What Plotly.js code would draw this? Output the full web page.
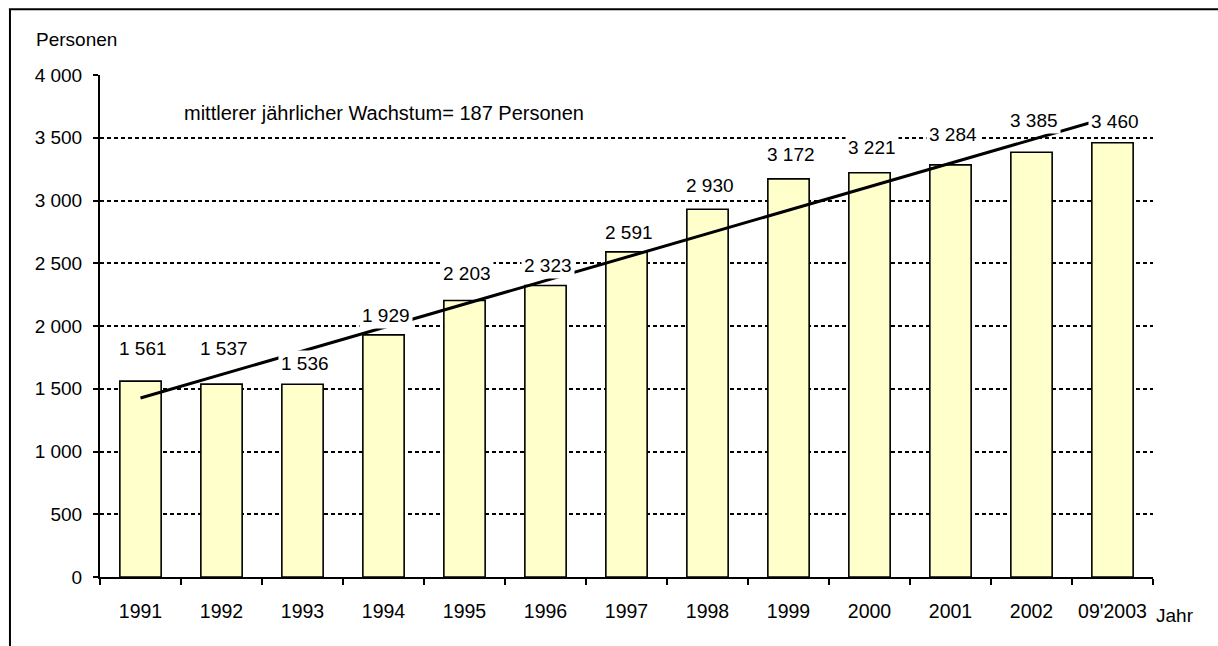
<!DOCTYPE html>
<html>
<head>
<meta charset="utf-8">
<script src="https://cdn.plot.ly/plotly-3.0.1.min.js"></script>
<style>
  html, body { margin: 0; padding: 0; background: #fff; }
  #chart { width: 1218px; height: 646px; }
</style>
</head>
<body>
<div id="chart"></div>
<script>
// ---- data ----
const years = ["1991", "1992", "1993", "1994", "1995", "1996", "1997", "1998", "1999", "2000", "2001", "2002", "09'2003"];
const persons = [1561, 1537, 1536, 1929, 2203, 2323, 2591, 2930, 3172, 3221, 3284, 3385, 3460];
const trendYears = ["1991", "09'2003"];
const trendPersons = [1426, 3671];
const yTickVals = [0, 500, 1000, 1500, 2000, 2500, 3000, 3500, 4000];
const yTickText = ["0", "500", "1 000", "1 500", "2 000", "2 500", "3 000", "3 500", "4 000"];
const growthNote = "mittlerer jährlicher Wachstum= 187 Personen";

// ---- layout helpers (positions / styles) ----
const labelLift = [33, 36, 21, 19, 27, 20, 19, 24, 24, 25, 30, 32, 21];
const FONT = "Liberation Sans, Arial, Helvetica, sans-serif";
const FS = 19;

function fmt(v) {
  return String(v).replace(/\B(?=(\d{3})+(?!\d))/g, " ");
}

const bars = {
  type: "bar",
  x: years,
  y: persons,
  marker: { color: "#FFFFCC", line: { color: "#000", width: 1.6 } },
  hoverinfo: "x+y",
  showlegend: false
};

const trend = {
  type: "scatter",
  mode: "lines",
  x: trendYears,
  y: trendPersons,
  line: { color: "#000", width: 3 },
  hoverinfo: "skip",
  showlegend: false
};

// annotations on a category axis are placed by category index
const annotations = persons.map((v, i) => ({
  x: i,
  y: v,
  xref: "x",
  yref: "y",
  text: fmt(v),
  showarrow: false,
  xanchor: "center",
  yanchor: "middle",
  xshift: 2,
  yshift: labelLift[i],
  bgcolor: "#fff",
  borderpad: 2,
  font: { family: FONT, size: FS, color: "#000" }
}));

annotations.push({
  xref: "paper", yref: "paper", x: 0.078, y: 0.9245,
  text: growthNote, showarrow: false, xanchor: "left", yanchor: "middle",
  font: { family: FONT, size: 20, color: "#000" }
});
annotations.push({
  xref: "paper", yref: "paper", x: -0.063, y: 1.07,
  text: "Personen", showarrow: false, xanchor: "left", yanchor: "middle",
  font: { family: FONT, size: FS, color: "#000" }
});
annotations.push({
  xref: "paper", yref: "paper", x: 1, y: 0, yshift: -38, xshift: 1,
  text: "Jahr", showarrow: false, xanchor: "left", yanchor: "middle",
  font: { family: FONT, size: FS, color: "#000" }
});

const layout = {
  width: 1218,
  height: 646,
  margin: { l: 100, r: 65, t: 75, b: 69, pad: 0 },
  paper_bgcolor: "#fff",
  plot_bgcolor: "#fff",
  font: { family: FONT, size: FS, color: "#000" },
  bargap: 0.49,
  xaxis: {
    type: "category",
    range: [-0.5, 12.5],
    autorange: false,
    showline: true,
    linecolor: "#000",
    linewidth: 2,
    ticks: "outside",
    tickson: "boundaries",
    ticklen: 6,
    tickwidth: 2,
    tickcolor: "#000",
    tickangle: 0,
    showgrid: false,
    zeroline: false,
    ticklabelstandoff: 16,
    tickfont: { family: FONT, size: 19.5, color: "#000" },
    fixedrange: true
  },
  yaxis: {
    range: [0, 4000],
    autorange: false,
    tickvals: yTickVals,
    ticktext: yTickText,
    showline: true,
    linecolor: "#000",
    linewidth: 2,
    ticks: "outside",
    ticklen: 5,
    tickwidth: 2,
    tickcolor: "#000",
    showgrid: true,
    gridcolor: "#000",
    gridwidth: 2,
    griddash: "4px,3px",
    zeroline: false,
    ticklabelstandoff: 7,
    tickfont: { family: FONT, size: FS, color: "#000" },
    fixedrange: true
  },
  annotations: annotations,
  shapes: [
    { type: "line", xref: "paper", yref: "paper", x0: -0.0855, x1: -0.0855, y0: 1.131, y1: -0.2,
      line: { color: "#000", width: 2 } },
    { type: "line", xref: "paper", yref: "paper", x0: -0.0865, x1: 1.1, y0: 1.131, y1: 1.131,
      line: { color: "#000", width: 2 } }
  ]
};

Plotly.newPlot("chart", [bars, trend], layout, { displayModeBar: false, staticPlot: true });
</script>
</body>
</html>
